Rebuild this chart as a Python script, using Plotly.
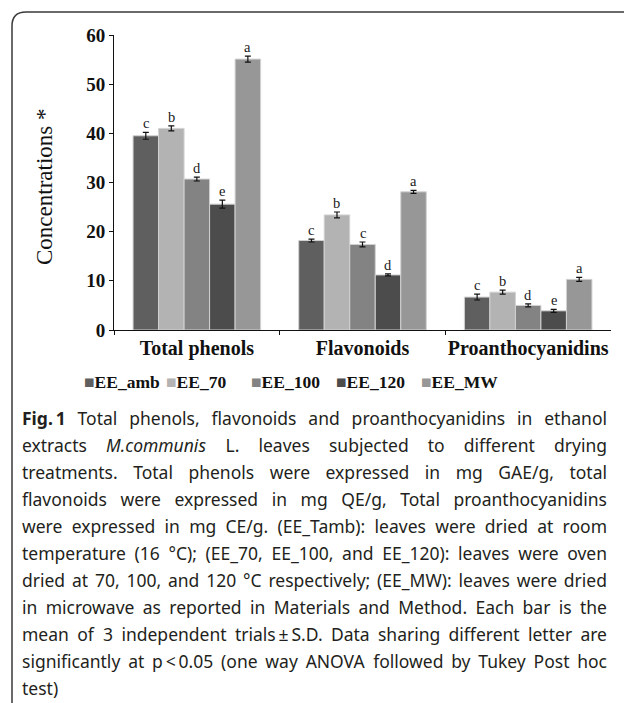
import json
import plotly.graph_objects as go

# ---------------- data ----------------
categories = ["Total phenols", "Flavonoids", "Proanthocyanidins"]
series_names = ["EE_amb", "EE_70", "EE_100", "EE_120", "EE_MW"]
ee_amb = [39.5, 18.2, 6.7]
ee_70 = [41.0, 23.4, 7.7]
ee_100 = [30.7, 17.4, 5.0]
ee_120 = [25.6, 11.2, 3.9]
ee_mw = [55.1, 28.1, 10.3]
err_amb = [0.7, 0.3, 0.6]
err_70 = [0.5, 0.6, 0.4]
err_100 = [0.4, 0.5, 0.3]
err_120 = [0.8, 0.2, 0.3]
err_mw = [0.6, 0.3, 0.4]
let_amb = ["c", "c", "c"]
let_70 = ["b", "b", "b"]
let_100 = ["d", "c", "d"]
let_120 = ["e", "d", "e"]
let_mw = ["a", "a", "a"]
y_ticks = [0, 10, 20, 30, 40, 50, 60]
y_title = "Concentrations *"

caption_lines = [
    "<b>Fig.\u20091</b> Total phenols, flavonoids and proanthocyanidins in ethanol",
    "extracts <i>M.communis</i> L. leaves subjected to different drying",
    "treatments. Total phenols were expressed in mg GAE/g, total",
    "flavonoids were expressed in mg QE/g, Total proanthocyanidins",
    "were expressed in mg CE/g. (EE_Tamb): leaves were dried at room",
    "temperature (16 °C); (EE_70, EE_100, and EE_120): leaves were oven",
    "dried at 70, 100, and 120 °C respectively; (EE_MW): leaves were dried",
    "in microwave as reported in Materials and Method. Each bar is the",
    "mean of 3 independent trials\u2009±\u2009S.D. Data sharing different letter are",
    "significantly at p\u2009<\u20090.05 (one way ANOVA followed by Tukey Post hoc",
    "test)",
]

values = [ee_amb, ee_70, ee_100, ee_120, ee_mw]
errors = [err_amb, err_70, err_100, err_120, err_mw]
letters = [let_amb, let_70, let_100, let_120, let_mw]
colors = ["#5f5f5f", "#b3b3b3", "#838383", "#4c4c4c", "#979797"]

W, H = 624, 703
def px(x):
    return x / W
def py(y):
    return 1 - y / H

# plot area in pixels
X0, X1 = 114, 611
Y60, Y0 = 35, 330
BARGAP = 0.23

fig = go.Figure()
for name, v, e, c in zip(series_names, values, errors, colors):
    fig.add_trace(go.Bar(
        x=categories, y=v, name=name,
        marker=dict(color=c, line=dict(color="#d2d2d2", width=1)),
        error_y=dict(type="data", array=e, visible=True, color="#111111",
                     thickness=1.2, width=3),
        showlegend=False,
    ))

annotations = []
# letters above bars
cat_w = (X1 - X0) / len(categories)
bar_w = cat_w * (1 - BARGAP) / len(series_names)
for i, (v, e, l) in enumerate(zip(values, errors, letters)):
    for j, cat in enumerate(categories):
        annotations.append(dict(
            x=cat, y=v[j] + e[j], xref="x", yref="y", text=l[j],
            showarrow=False, yanchor="bottom", xanchor="center",
            xshift=(i - (len(series_names) - 1) / 2) * bar_w, yshift=-1,
            font=dict(family="Liberation Serif", size=14.5, color="#1a1a1a"),
        ))

# y title
annotations.append(dict(
    x=px(44), y=py(187), xref="paper", yref="paper", text=y_title,
    showarrow=False, textangle=-90, xanchor="center", yanchor="middle",
    font=dict(family="Liberation Serif", size=23, color="#111111"),
))

# legend (manual)
leg_x = [82, 164, 249, 334, 419]
for name, c, lx in zip(series_names, colors, leg_x):
    annotations.append(dict(
        x=px(lx), y=py(382), xref="paper", yref="paper",
        text=f"<span style='color:{c}'>■</span>{name}",
        showarrow=False, xanchor="left", yanchor="middle",
        font=dict(family="Liberation Serif", size=17.5, color="#111111", weight="bold"),
    ))

# caption: one text per word, justified in the browser after measuring
CAP_L, CAP_R = 22, 607
LINE0, LSTEP = 418, 27
CAP_SIZE = 17.5
line_indices = []
for k, ln in enumerate(caption_lines):
    words = ln.split(" ")
    idxs = []
    xcur = CAP_L
    for w in words:
        idxs.append(len(annotations))
        annotations.append(dict(
            x=px(xcur), y=py(LINE0 + k * LSTEP), xref="paper", yref="paper",
            text=w, showarrow=False, xanchor="left", yanchor="middle", align="left",
            borderpad=0, borderwidth=0,
            font=dict(family="Noto Sans", size=CAP_SIZE, color="#231f20"),
        ))
        xcur += 8.6 * len(w) + 5
    line_indices.append(idxs)
justify_lines = [idx for idx in line_indices[:-1] if len(idx) > 1]

# frame with rounded top-left corner
shapes = [dict(type="path", xref="paper", yref="paper",
               path=f"M {px(12)} {py(703)} L {px(12)} {py(26)} Q {px(12)} {py(12)} {px(26)} {py(12)} L {px(624)} {py(12)}",
               line=dict(color="#3a3a3a", width=1.5))]

fig.update_layout(
    width=W, height=H, autosize=False,
    margin=dict(l=0, r=0, t=0, b=0),
    paper_bgcolor="white", plot_bgcolor="white",
    barmode="group", bargap=BARGAP, bargroupgap=0,
    showlegend=False,
    annotations=annotations, shapes=shapes,
    xaxis=dict(domain=[px(X0), px(X1)], showline=True, linecolor="#111111", linewidth=1,
               ticks="outside", ticklen=4, tickcolor="#111111", tickson="boundaries",
               showgrid=False, zeroline=False, tickangle=0, automargin=False,
               tickfont=dict(family="Liberation Serif", size=20, color="#111111", weight="bold")),
    yaxis=dict(domain=[py(Y0), py(Y60)], range=[0, 60], tickvals=y_ticks,
               showline=True, linecolor="#111111", linewidth=1,
               ticks="outside", ticklen=4, tickcolor="#111111", automargin=False,
               showgrid=False, zeroline=False,
               tickfont=dict(family="Liberation Serif", size=19, color="#111111", weight="bold")),
)

justify_js = """
document.body.style.margin='0';
document.body.style.overflow='hidden';
var gd = document.getElementById('{plot_id}');
var LINES = %s;
var LPX = %f, RPX = %f;
function justifyCaption() {
  var base = gd.getBoundingClientRect().left;
  LINES.forEach(function(idxs) {
    var items = idxs.map(function(i) {
      var g = gd.querySelector('g.annotation[data-index="' + i + '"]');
      if (!g) return null;
      g.removeAttribute('transform');
      return {g: g, t: g.querySelector('text.annotation-text')};
    });
    if (items.some(function(it) { return !it || !it.t; })) return;
    var widths = items.map(function(it) { return it.t.getBoundingClientRect().width; });
    var sum = widths.reduce(function(a, b) { return a + b; }, 0);
    var gap = (RPX - LPX - sum) / (items.length - 1);
    var x = base + LPX;
    items.forEach(function(it, k) {
      var cur = it.t.getBoundingClientRect().left;
      it.g.setAttribute('transform', 'translate(' + (x - cur) + ',0)');
      x += widths[k] + gap;
    });
  });
}
justifyCaption();
if (document.fonts && document.fonts.ready) { document.fonts.ready.then(justifyCaption); }
""" % (json.dumps(justify_lines), CAP_L, CAP_R)

fig.write_html("out.html", config={"displayModeBar": False}, post_script=justify_js)
